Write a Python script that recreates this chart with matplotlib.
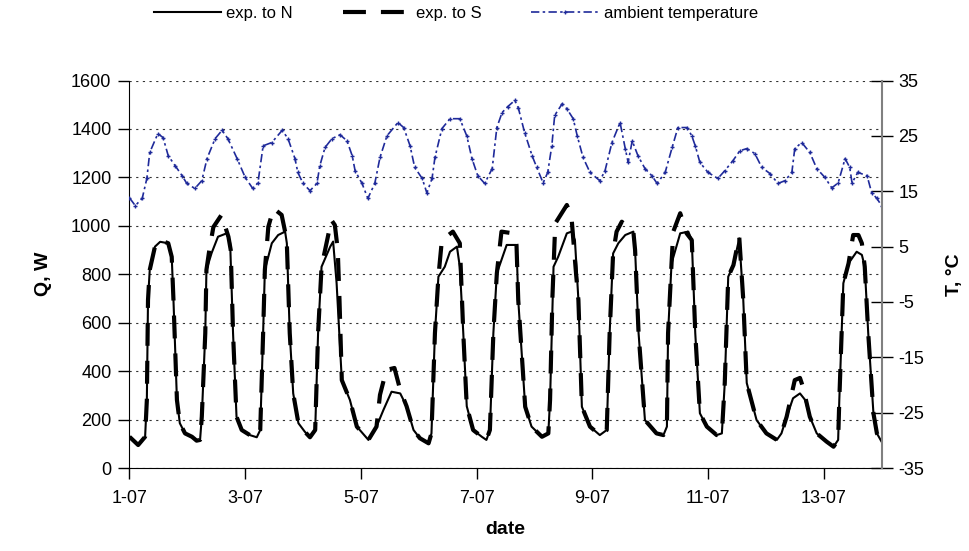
import matplotlib
matplotlib.use("Agg")
import matplotlib.pyplot as plt
import numpy as np

plt.rcParams['font.family'] = ['Liberation Sans Narrow', 'Liberation Sans', 'DejaVu Sans']
plt.rcParams['axes.unicode_minus'] = False

# --- data (time in days since 1-07 00:00) ---
# heat flux, exposure to North
t_n = [0.00, 0.15, 0.27, 0.30, 0.32, 0.35, 0.44, 0.53, 0.67, 0.73, 0.76, 0.82, 0.87, 0.96,
       1.08, 1.16, 1.22, 1.25, 1.31, 1.33, 1.42, 1.53, 1.68, 1.74, 1.79, 1.85, 1.94,
       2.08, 2.20, 2.26, 2.31, 2.34, 2.46, 2.57, 2.69, 2.72, 2.77, 2.83, 2.92,
       3.03, 3.12, 3.21, 3.26, 3.32, 3.47, 3.52, 3.58, 3.67, 3.81, 3.93,
       4.13, 4.27, 4.39, 4.53, 4.68, 4.79, 4.91,
       5.02, 5.17, 5.22, 5.28, 5.34, 5.45, 5.54, 5.66, 5.71, 5.77, 5.83, 5.94,
       6.09, 6.17, 6.23, 6.29, 6.35, 6.52, 6.69, 6.72, 6.84, 6.95,
       7.13, 7.24, 7.27, 7.33, 7.41, 7.56, 7.64, 7.70, 7.76, 7.82, 7.96,
       8.13, 8.25, 8.30, 8.36, 8.45, 8.57, 8.71, 8.74, 8.80, 8.91,
       9.11, 9.23, 9.29, 9.31, 9.37, 9.52, 9.66, 9.72, 9.78, 9.86, 9.98,
       10.15, 10.24, 10.29, 10.35, 10.44, 10.54, 10.61, 10.67, 10.84,
       11.01, 11.19, 11.27, 11.36, 11.47, 11.59, 11.68, 11.76, 11.88,
       12.05, 12.17, 12.25, 12.27, 12.34, 12.43, 12.57, 12.66, 12.71, 12.77, 12.86, 12.92, 13.00]
q_n = [129, 95, 129, 281, 694, 818, 914, 934, 928, 872, 694, 281, 185, 143,
       129, 113, 116, 212, 557, 818, 888, 955, 969, 929, 557, 212, 157,
       136, 127, 157, 557, 818, 928, 962, 976, 928, 557, 308, 185,
       150, 127, 157, 557, 831, 914, 935, 764, 363, 281, 171,
       116, 171, 240, 315, 308, 255, 157,
       123, 102, 143, 557, 790, 831, 893, 914, 831, 557, 255, 157,
       129, 116, 157, 557, 804, 921, 921, 694, 253, 171,
       129, 143, 281, 831, 872, 969, 976, 941, 694, 253, 171,
       136, 157, 557, 886, 928, 962, 976, 900, 557, 198,
       143, 136, 171, 557, 845, 969, 976, 941, 557, 226, 171,
       136, 143, 351, 790, 838, 948, 694, 351, 198,
       143, 116, 143, 212, 288, 308, 281, 212, 143,
       109, 88, 116, 281, 763, 845, 893, 880, 831, 557, 226, 143, 109]

# heat flux, exposure to South
t_s = [0.00, 0.15, 0.27, 0.30, 0.32, 0.35, 0.44, 0.53, 0.67, 0.73, 0.76, 0.82, 0.87, 0.96,
       1.08, 1.16, 1.22, 1.25, 1.31, 1.33, 1.38, 1.45, 1.59, 1.71, 1.75, 1.79, 1.85, 1.94,
       2.08, 2.20, 2.26, 2.31, 2.34, 2.40, 2.49, 2.63, 2.69, 2.72, 2.77, 2.83, 2.92,
       3.03, 3.12, 3.21, 3.26, 3.32, 3.43, 3.49, 3.55, 3.60, 3.63, 3.67, 3.81, 3.93,
       4.13, 4.27, 4.33, 4.44, 4.58, 4.68, 4.79, 4.91,
       5.02, 5.17, 5.22, 5.28, 5.34, 5.40, 5.59, 5.71, 5.77, 5.83, 5.94,
       6.09, 6.17, 6.23, 6.29, 6.35, 6.43, 6.63, 6.69, 6.72, 6.84, 6.95,
       7.13, 7.24, 7.27, 7.31, 7.36, 7.56, 7.64, 7.72, 7.76, 7.82, 7.96,
       8.13, 8.25, 8.30, 8.36, 8.42, 8.51, 8.60, 8.71, 8.74, 8.80, 8.91,
       9.11, 9.23, 9.29, 9.31, 9.37, 9.40, 9.52, 9.63, 9.72, 9.78, 9.86, 9.98,
       10.15, 10.24, 10.29, 10.35, 10.44, 10.54, 10.61, 10.67, 10.84,
       11.01, 11.19, 11.27, 11.36, 11.50, 11.59, 11.64, 11.76, 11.88,
       12.05, 12.17, 12.25, 12.27, 12.34, 12.43, 12.51, 12.60, 12.66, 12.71, 12.77, 12.86, 12.92, 13.00]
q_s = [129, 95, 129, 281, 694, 818, 914, 941, 928, 872, 694, 281, 185, 143,
       129, 113, 116, 212, 557, 818, 900, 995, 1045, 955, 900, 557, 212, 157,
       136, 127, 157, 557, 818, 996, 1072, 1045, 976, 928, 557, 308, 185,
       150, 127, 157, 557, 831, 955, 1024, 1003, 900, 694, 363, 281, 171,
       116, 171, 302, 405, 413, 322, 255, 157,
       123, 102, 143, 557, 790, 941, 976, 928, 557, 255, 157,
       129, 116, 157, 557, 804, 976, 969, 921, 694, 253, 171,
       129, 143, 281, 700, 1010, 1086, 1038, 800, 694, 253, 171,
       136, 157, 557, 886, 976, 1017, 996, 976, 900, 557, 198,
       143, 136, 171, 557, 845, 976, 1052, 969, 941, 557, 226, 171,
       136, 143, 351, 790, 838, 955, 694, 351, 198,
       143, 116, 143, 212, 363, 372, 336, 212, 143,
       109, 88, 116, 281, 763, 845, 962, 962, 928, 831, 557, 226, 143, 109]

# ambient temperature, degC
t_amb = [0.00, 0.10, 0.22, 0.30, 0.35, 0.49, 0.58, 0.67, 0.79, 0.91, 0.99,
         1.13, 1.25, 1.34, 1.48, 1.60, 1.70, 1.86, 2.00,
         2.13, 2.22, 2.31, 2.46, 2.64, 2.74, 2.86, 2.91, 3.00,
         3.12, 3.24, 3.29, 3.38, 3.50, 3.64, 3.76, 3.85, 3.90, 4.02,
         4.12, 4.24, 4.33, 4.45, 4.64, 4.74, 4.85, 4.93, 5.06,
         5.14, 5.23, 5.28, 5.40, 5.54, 5.71, 5.83, 5.92, 6.02,
         6.14, 6.27, 6.35, 6.44, 6.54, 6.66, 6.72, 6.83, 6.96, 7.04,
         7.15, 7.23, 7.30, 7.35, 7.48, 7.56, 7.67, 7.74, 7.84, 7.96,
         8.13, 8.22, 8.34, 8.48, 8.57, 8.62, 8.69, 8.79, 8.91, 9.03,
         9.12, 9.26, 9.38, 9.48, 9.64, 9.72, 9.78, 9.86, 10.00,
         10.17, 10.29, 10.43, 10.55, 10.67, 10.81, 10.93, 11.07,
         11.21, 11.33, 11.45, 11.50, 11.62, 11.76, 11.88, 12.02,
         12.14, 12.25, 12.37, 12.45, 12.49, 12.59, 12.75, 12.83, 12.92, 13.00]
temp = [13.8, 12.4, 13.7, 17.3, 22.0, 25.4, 24.7, 21.4, 19.6, 17.8, 16.4,
        15.5, 16.9, 20.9, 24.5, 26.0, 24.5, 20.9, 17.5,
        15.5, 16.5, 23.2, 23.8, 26.0, 24.5, 20.9, 18.4, 16.4,
        15.1, 16.4, 19.6, 22.9, 24.5, 25.2, 24.1, 21.4, 18.7, 16.4,
        13.7, 16.4, 21.1, 25.0, 27.4, 26.5, 23.2, 19.3, 17.3,
        14.7, 17.3, 21.1, 26.3, 28.1, 28.1, 25.0, 20.9, 17.8,
        16.4, 19.1, 26.5, 29.2, 30.3, 31.4, 30.1, 25.6, 21.4, 19.3,
        16.5, 18.4, 23.2, 28.7, 30.8, 29.9, 28.1, 25.0, 21.1, 18.4,
        16.9, 18.7, 23.8, 27.4, 22.7, 20.2, 24.1, 21.4, 19.1, 17.8,
        16.4, 18.4, 22.9, 26.5, 26.5, 25.0, 23.2, 20.2, 18.4,
        17.3, 18.7, 20.5, 22.3, 22.7, 21.8, 19.3, 18.2,
        16.4, 16.9, 18.4, 22.7, 23.8, 22.0, 19.1, 17.5,
        15.6, 16.5, 20.9, 19.3, 16.5, 18.4, 17.8, 14.7, 13.7, 12.4]

date_ticks = [0, 2, 4, 6, 8, 10, 12]
date_labels = ['1-07', '3-07', '5-07', '7-07', '9-07', '11-07', '13-07']

# --- figure ---
fig = plt.figure(figsize=(9.7, 5.51), dpi=100)
ax = fig.add_axes([0.1335, 0.1506, 0.7753, 0.7033])
ax2 = ax.twinx()

fs = 13

ax.plot(t_s, q_s, color='black', lw=3, dashes=(5.5, 3.6), label='exp. to S', zorder=3)
ax.plot(t_n, q_n, color='black', lw=1.5, label='exp. to N', zorder=4)
ax2.plot(t_amb, temp, color='#1f2a9a', lw=1.2, dashes=(5, 2, 1.5, 2), marker='+',
         markersize=3, markeredgewidth=1, label='ambient temperature')

ax.set_xlim(0, 13)
ax.set_ylim(0, 1600)
ax.set_yticks(np.arange(0, 1601, 200))
ax.set_xticks(date_ticks)
ax.set_xticklabels(date_labels)
ax.yaxis.grid(True, linestyle=(0, (2, 4)), color='#333333', lw=0.8)
ax.set_axisbelow(True)

ax2.set_ylim(-35, 35)
ax2.set_yticks(np.arange(-35, 36, 10))

for s in ['top', 'right']:
    ax.spines[s].set_visible(False)
for s in ['top', 'left', 'bottom']:
    ax2.spines[s].set_visible(False)
ax2.spines['right'].set_color('#808080')
ax2.spines['right'].set_linewidth(1.5)

ax.tick_params(axis='both', labelsize=fs, length=8, width=1, direction='out', pad=8)
ax.tick_params(axis='y', pad=5)
ax2.tick_params(axis='y', labelsize=fs, length=16, width=1, direction='inout', pad=4)

ax.set_xlabel('date', fontsize=fs + 1, fontweight='bold', labelpad=10)
ax.set_ylabel('Q, W', fontsize=fs + 1, fontweight='bold', labelpad=14)
ax2.set_ylabel('T, °C', fontsize=fs + 1, fontweight='bold', labelpad=16)

h1, l1 = ax.get_legend_handles_labels()
h2, l2 = ax2.get_legend_handles_labels()
order = [1, 0]
fig.legend([h1[i] for i in order] + h2, [l1[i] for i in order] + l2,
           loc='center', bbox_to_anchor=(0.47, 0.976), ncol=3, frameon=False,
           fontsize=fs - 1, handlelength=4.0, handletextpad=0.35, columnspacing=3.0)

fig.savefig('out.png', dpi=100)
